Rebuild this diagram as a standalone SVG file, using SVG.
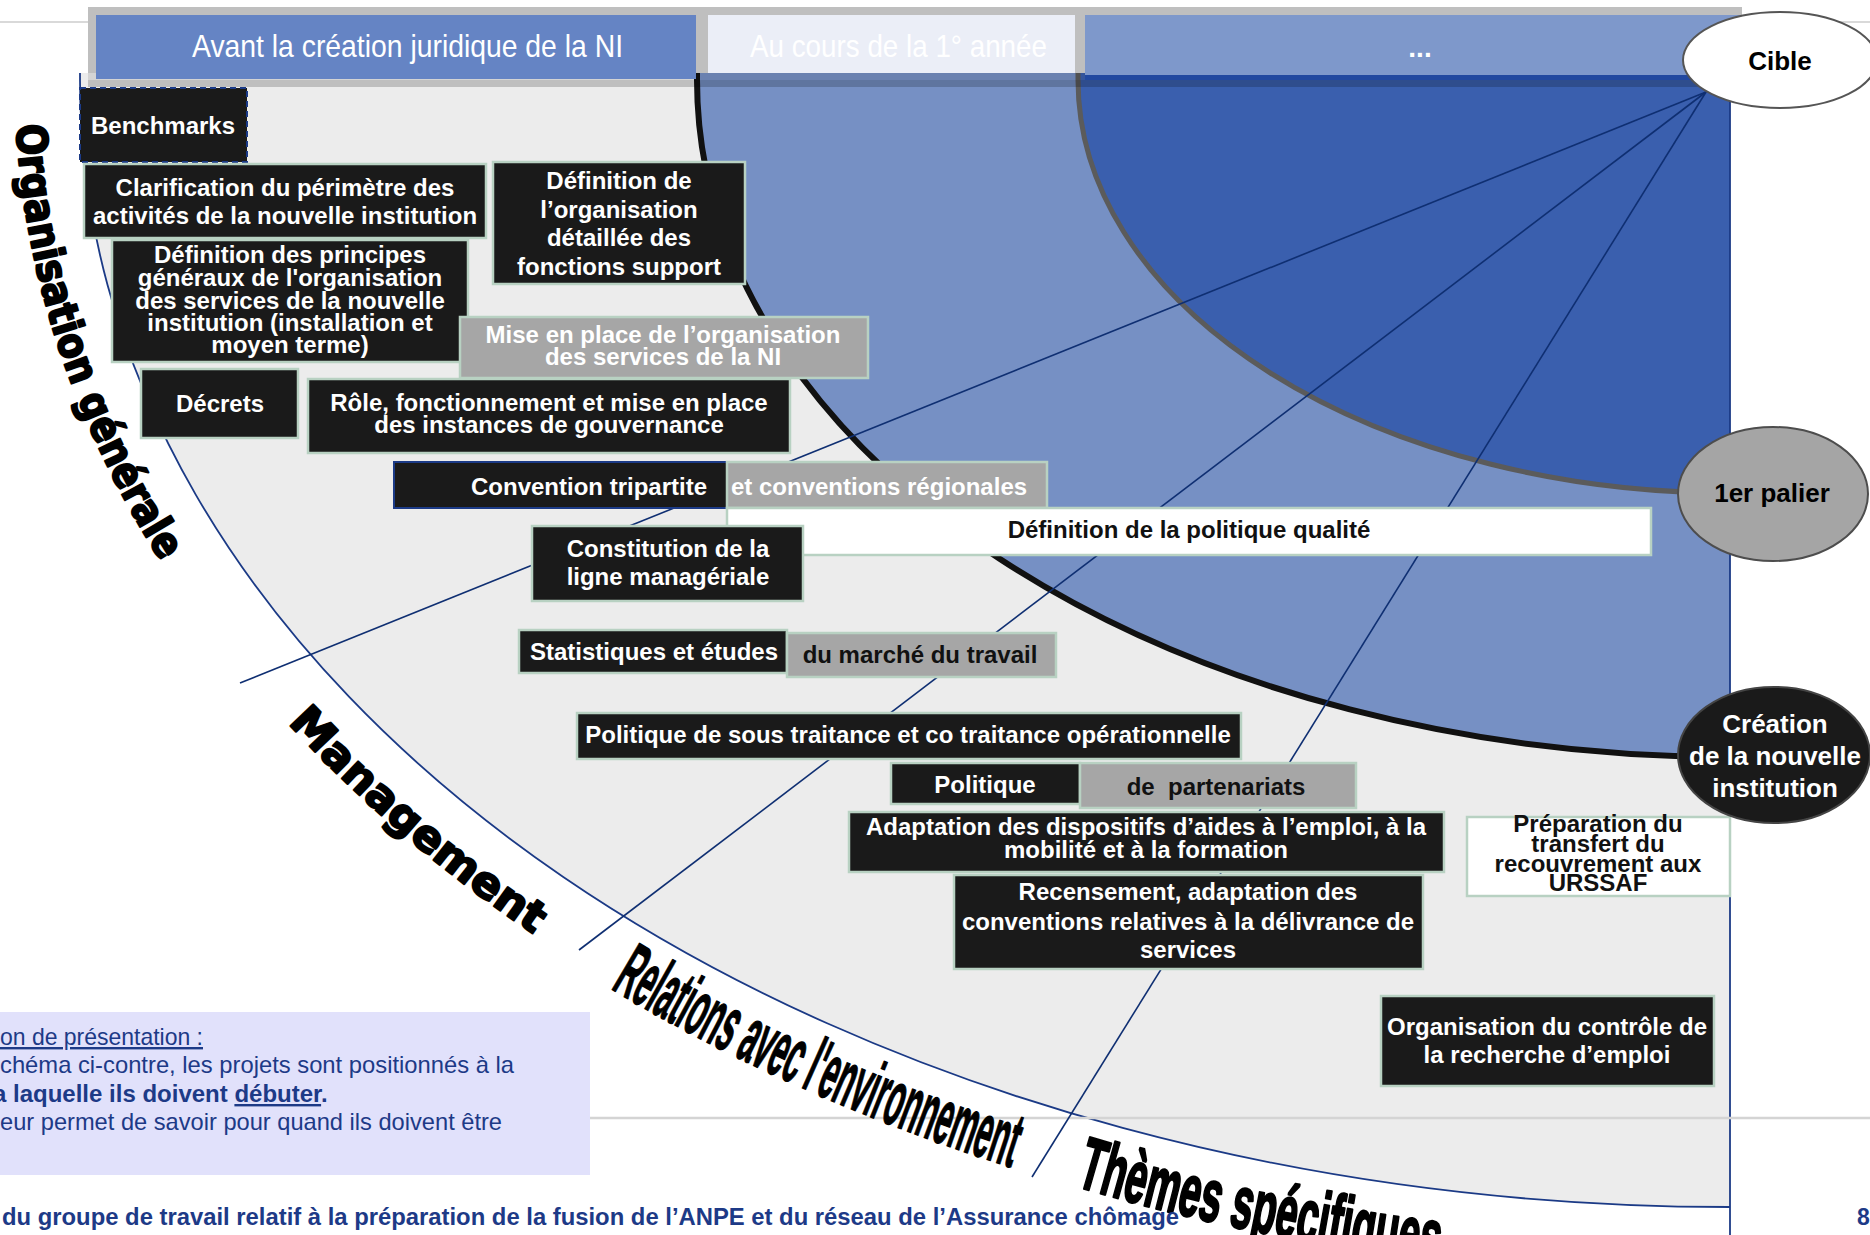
<svg xmlns="http://www.w3.org/2000/svg" width="1870" height="1235" viewBox="0 0 1870 1235">
<defs>
<style>
text{font-family:'Liberation Sans',Arial,sans-serif}
.bk{fill:#1a1a1a;stroke:#b8d1c2;stroke-width:2.5}
.gy{fill:#a6a6a6;stroke:#b8d1c2;stroke-width:2.5}
.wh{fill:#ffffff;stroke:#b8d1c2;stroke-width:2.5}
.lb{font-size:24px;font-weight:bold;fill:#ffffff;text-anchor:middle}
.dk{fill:#111111}
.hd{font-family:'Liberation Sans Narrow','Liberation Sans',Arial,sans-serif;font-size:32px;fill:#ffffff}
.rad{stroke:#0f2f72;stroke-width:1.6;fill:none}
.big{font-family:'DejaVu Sans','Liberation Sans',sans-serif;font-weight:bold;fill:#000;stroke:#000;stroke-width:2.2;stroke-linejoin:round}
.cond{font-family:'Liberation Sans Narrow','Liberation Sans',sans-serif;font-weight:bold;fill:#000;stroke:#000;stroke-linejoin:round}
.note{font-family:'Liberation Sans Narrow','Liberation Sans',Arial,sans-serif;font-size:24px;fill:#1d3a87}
.oval{font-size:26px;font-weight:bold;text-anchor:middle}
</style>
<path id="pOrg" d="M16.2 125 A1715 1192 0 0 0 161.5 562"/>
<path id="pMan" d="M288 723 A1715 1192 0 0 0 535.2 935.1"/>
<path id="pRel" d="M610.3 988.6 A1720 1197 0 0 0 1011.7 1167.6"/>
<path id="pThe" d="M1075 1186 A1722 1199 0 0 0 1431 1261"/>
</defs>

<rect width="1870" height="1235" fill="#ffffff"/>
<line x1="0" y1="22" x2="1870" y2="22" stroke="#d9d9d9" stroke-width="2"/>

<g id="background">
<path d="M80 73 L80 80 A1650 1127 0 0 0 1730 1207 L1730 73 Z" fill="#ececec"/>
<path d="M697 73 L697 80 A1033 677 0 0 0 1730 757 L1730 73 Z" fill="#7690c4"/>
<path d="M1078 73 L1078 80 A652 413 0 0 0 1730 493 L1730 73 Z" fill="#3a5fae"/>
<path d="M80 73 L80 80 A1650 1127 0 0 0 1730 1207" fill="none" stroke="#1b3a86" stroke-width="1.8"/>
<path d="M697 73 L697 80 A1033 677 0 0 0 1730 757" fill="none" stroke="#111111" stroke-width="6"/>
<path d="M1078 73 L1078 80 A652 413 0 0 0 1730 493" fill="none" stroke="#5b5b5b" stroke-width="5"/>
<line x1="1730" y1="80" x2="1730" y2="1235" stroke="#1b3a86" stroke-width="1.8"/>
<line x1="0" y1="1118" x2="1870" y2="1118" stroke="#d4d4d4" stroke-width="2.5"/>
</g>

<g id="header">
<rect x="88" y="7" width="1654" height="66" fill="#bfbfbf"/>
<rect x="88" y="73" width="1654" height="7" fill="#000" opacity="0.1"/>
<rect x="88" y="80" width="1654" height="7" fill="#000" opacity="0.19"/>
<rect x="96" y="15" width="600" height="64" fill="#6584c4"/>
<rect x="708" y="15" width="367" height="58" fill="#ebeef7"/>
<rect x="1085" y="15" width="657" height="60" fill="#7e98cb"/>
<rect x="1085" y="75" width="645" height="5" fill="#2148a0"/>
<text class="hd" x="192" y="57" textLength="431" lengthAdjust="spacingAndGlyphs">Avant la création juridique de la NI</text>
<text class="hd" x="750" y="57" textLength="297" lengthAdjust="spacingAndGlyphs" fill="#fbfbff">Au cours de la 1° année</text>
<text x="1420" y="57" font-size="28" font-weight="bold" fill="#ffffff" text-anchor="middle">...</text>
</g>

<g id="connectors">
<line class="rad" x1="1706" y1="92" x2="240" y2="683"/>
<line class="rad" x1="1706" y1="92" x2="579" y2="950"/>
<line class="rad" x1="1706" y1="92" x2="1032" y2="1177"/>
</g>

<g id="n-benchmarks">
<rect x="80" y="88" width="167" height="74" fill="#1a1a1a" stroke="#1b3a86" stroke-width="2" stroke-dasharray="6 4"/>
<text class="lb" x="163" y="134">Benchmarks</text>
</g>
<g id="n-clarification">
<rect class="bk" x="84" y="164" width="402" height="74"/>
<text class="lb" x="285" y="196">Clarification du périmètre des</text>
<text class="lb" x="285" y="224">activités de la nouvelle institution</text>
</g>
<g id="n-def-org">
<rect class="bk" x="493" y="162" width="252" height="122"/>
<text class="lb" x="619" y="189">Définition de</text>
<text class="lb" x="619" y="218">l’organisation</text>
<text class="lb" x="619" y="246">détaillée des</text>
<text class="lb" x="619" y="275">fonctions support</text>
</g>
<g id="n-def-principes">
<rect class="bk" x="112" y="240" width="356" height="122"/>
<text class="lb" x="290" y="263">Définition des principes</text>
<text class="lb" x="290" y="286">généraux de l'organisation</text>
<text class="lb" x="290" y="309">des services de la nouvelle</text>
<text class="lb" x="290" y="331">institution (installation et</text>
<text class="lb" x="290" y="353">moyen terme)</text>
</g>
<g id="n-mise-en-place">
<rect class="gy" x="460" y="317" width="408" height="61"/>
<text class="lb" x="663" y="343">Mise en place de l’organisation</text>
<text class="lb" x="663" y="365">des services de la NI</text>
</g>
<g id="n-decrets">
<rect class="bk" x="141" y="369" width="157" height="69"/>
<text class="lb" x="220" y="412">Décrets</text>
</g>
<g id="n-role">
<rect class="bk" x="308" y="379" width="482" height="74"/>
<text class="lb" x="549" y="411">Rôle, fonctionnement et mise en place</text>
<text class="lb" x="549" y="433">des instances de gouvernance</text>
</g>
<g id="n-convention">
<rect x="394" y="462" width="333" height="46" fill="#1a1a1a" stroke="#1b3a86" stroke-width="2"/>
<text class="lb" x="707" y="495" style="text-anchor:end">Convention tripartite</text>
</g>
<g id="n-conventions-regionales">
<rect class="gy" x="727" y="462" width="320" height="46"/>
<text class="lb" x="731" y="495" style="text-anchor:start">et conventions régionales</text>
</g>
<g id="n-qualite">
<rect class="wh" x="727" y="508" width="924" height="47"/>
<text class="lb dk" x="1189" y="538">Définition de la politique qualité</text>
</g>
<g id="n-constitution">
<rect class="bk" x="532" y="526" width="271" height="75"/>
<text class="lb" x="668" y="557">Constitution de la</text>
<text class="lb" x="668" y="585">ligne managériale</text>
</g>
<g id="n-statistiques">
<rect class="bk" x="519" y="630" width="268" height="43"/>
<text class="lb" x="654" y="660">Statistiques et études</text>
</g>
<g id="n-marche">
<rect class="gy" x="787" y="633" width="269" height="44"/>
<text class="lb dk" x="920" y="663">du marché du travail</text>
</g>
<g id="n-sous-traitance">
<rect class="bk" x="577" y="713" width="664" height="46"/>
<text class="lb" x="908" y="743">Politique de sous traitance et co traitance opérationnelle</text>
</g>
<g id="n-politique">
<rect class="bk" x="891" y="763" width="189" height="41"/>
<text class="lb" x="985" y="793">Politique</text>
</g>
<g id="n-partenariats">
<rect class="gy" x="1080" y="763" width="276" height="45"/>
<text class="lb dk" x="1216" y="795" xml:space="preserve">de  partenariats</text>
</g>
<g id="n-adaptation">
<rect class="bk" x="849" y="812" width="595" height="60"/>
<text class="lb" x="1146" y="835">Adaptation des dispositifs d’aides à l’emploi, à la</text>
<text class="lb" x="1146" y="858">mobilité et à la formation</text>
</g>
<g id="n-recensement">
<rect class="bk" x="954" y="875" width="469" height="94"/>
<text class="lb" x="1188" y="900">Recensement, adaptation des</text>
<text class="lb" x="1188" y="930">conventions relatives à la délivrance de</text>
<text class="lb" x="1188" y="958">services</text>
</g>
<g id="n-urssaf">
<rect class="wh" x="1467" y="817" width="263" height="79"/>
<text class="lb dk" x="1598" y="832">Préparation du</text>
<text class="lb dk" x="1598" y="852">transfert du</text>
<text class="lb dk" x="1598" y="872">recouvrement aux</text>
<text class="lb dk" x="1598" y="891">URSSAF</text>
</g>
<g id="n-controle">
<rect class="bk" x="1381" y="996" width="333" height="90"/>
<text class="lb" x="1547" y="1035">Organisation du contrôle de</text>
<text class="lb" x="1547" y="1063">la recherche d’emploi</text>
</g>

<g id="n-cible">
<ellipse cx="1780" cy="60" rx="97" ry="48" fill="#ffffff" stroke="#555555" stroke-width="2"/>
<text class="oval" x="1780" y="70" fill="#000">Cible</text>
</g>
<g id="n-palier">
<ellipse cx="1773" cy="494" rx="95" ry="67" fill="#a5a5a5" stroke="#4d4d4d" stroke-width="2"/>
<text class="oval" x="1772" y="502" fill="#000">1er palier</text>
</g>
<g id="n-creation">
<ellipse cx="1774" cy="755" rx="96" ry="68" fill="#1a1a1a" stroke="#444444" stroke-width="2"/>
<text class="oval" x="1775" y="733" fill="#fff">Création</text>
<text class="oval" x="1775" y="765" fill="#fff">de la nouvelle</text>
<text class="oval" x="1775" y="797" fill="#fff">institution</text>
</g>

<g id="axis-labels">
<text class="big" font-size="42"><textPath href="#pOrg" textLength="465" lengthAdjust="spacingAndGlyphs">Organisation générale</textPath></text>
<text class="big" font-size="43"><textPath href="#pMan" textLength="325" lengthAdjust="spacingAndGlyphs">Management</textPath></text>
<text class="cond" font-size="78" stroke-width="1.4"><textPath href="#pRel" textLength="440" lengthAdjust="spacingAndGlyphs">Relations avec l'environnement</textPath></text>
<text class="cond" font-size="74" stroke-width="2.6"><textPath href="#pThe" textLength="372" lengthAdjust="spacingAndGlyphs">Thèmes spécifiques</textPath></text>
</g>

<g id="note">
<rect x="0" y="1012" width="590" height="163" fill="#e1e1fb"/>
<text class="note" x="0" y="1045" text-decoration="underline" textLength="203" lengthAdjust="spacingAndGlyphs">on de présentation :</text>
<text class="note" x="0" y="1073" textLength="514" lengthAdjust="spacingAndGlyphs">chéma ci-contre, les projets sont positionnés à la</text>
<text class="note" x="-7" y="1102" font-weight="bold">a laquelle ils doivent <tspan text-decoration="underline">débuter</tspan>.</text>
<text class="note" x="0" y="1130" textLength="502" lengthAdjust="spacingAndGlyphs">eur permet de savoir pour quand ils doivent être</text>
</g>

<g id="footer">
<text x="2" y="1225" font-size="23" font-weight="bold" fill="#1d3a87" textLength="1177" lengthAdjust="spacingAndGlyphs">du groupe de travail relatif à la préparation de la fusion de l’ANPE et du réseau de l’Assurance chômage</text>
<text x="1857" y="1225" font-size="23" font-weight="bold" fill="#1d3a87">8</text>
</g>
</svg>
